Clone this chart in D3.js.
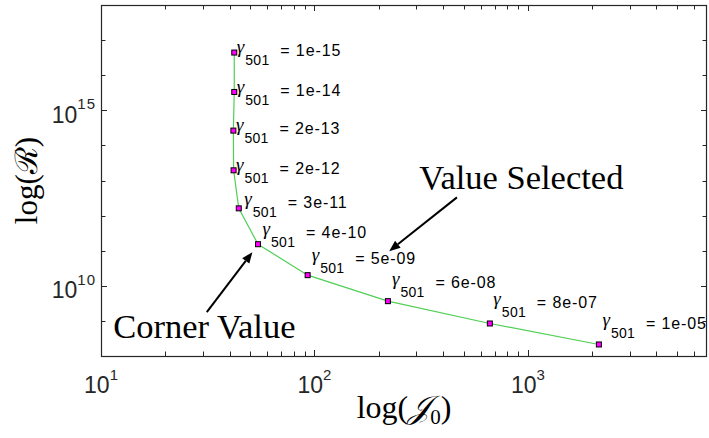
<!DOCTYPE html>
<html>
<head>
<meta charset="utf-8">
<script src="https://cdn.jsdelivr.net/npm/d3@7"></script>
<style>
  body { margin: 0; background: #fff; }
  svg { display: block; }
</style>
</head>
<body>
<svg id="chart" width="709" height="438"></svg>
<script>
// L-curve: misfit J0 against regularisation norm R for a sweep of gamma_501
const gammaLabels = ["1e-15", "1e-14", "2e-13", "2e-12", "3e-11", "4e-10", "5e-09", "6e-08", "8e-07", "1e-05"];
const misfitJ0 = [42.1, 42.1, 41.7, 41.8, 44.2, 54.4, 92.9, 220.8, 663, 2150];
const normR = [4.42e16, 3.33e15, 2.64e14, 1.95e13, 1.61e12, 1.53e11, 2.01e10, 3.65e9, 8.44e8, 2.13e8];

const xTickExponents = [1, 2, 3];
const yTickExponents = [10, 15];
const xDomain = [10, 6900];
const yDomain = [1e8, 1e18];

// annotation arrows and captions, in data units: [x, y]
const cornerArrow = { from: [31.3, 1.77e9], to: [51.2, 9.1e10] };
const selectedArrow = { from: [465, 3.3e12], to: [224, 9.7e10] };
const cornerCaption = { text: "Corner Value", at: [11.4, 3.2e8] };
const selectedCaption = { text: "Value Selected", at: [310, 5.6e12] };

const plot = { left: 101, right: 707, top: 5, bottom: 356 };
const axisColor = "#262626";
const sans = "'Liberation Sans', Arial, Helvetica, sans-serif";
const serif = "'Liberation Serif', 'Times New Roman', serif";

const svg = d3.select("#chart");

const x = d3.scaleLog().domain(xDomain).range([plot.left, plot.right]);
const y = d3.scaleLog().domain(yDomain).range([plot.bottom, plot.top]);

// ---- ticks (inward, on all four sides) ----
const xAll = x.ticks().filter(v => v > xDomain[0] && v < xDomain[1]);
const xMajor = xTickExponents.map(e => 10 ** e);
const yAll = d3.range(9, 18).map(e => 10 ** e);
const yMajor = yTickExponents.map(e => 10 ** e);
const isMajor = (v, list) => list.some(m => Math.abs(v / m - 1) < 1e-9);

const ticks = svg.append("g").attr("stroke", axisColor).attr("stroke-width", 1);
xAll.forEach(v => {
  const len = isMajor(v, xMajor) ? 6 : 4.5;
  const px = Math.round(x(v)) + 0.5;
  ticks.append("line").attr("x1", px).attr("x2", px).attr("y1", plot.bottom).attr("y2", plot.bottom - len);
  ticks.append("line").attr("x1", px).attr("x2", px).attr("y1", plot.top).attr("y2", plot.top + len);
});
yAll.forEach(v => {
  const len = isMajor(v, yMajor) ? 6 : 4.5;
  const py = Math.round(y(v)) + 0.5;
  ticks.append("line").attr("y1", py).attr("y2", py).attr("x1", plot.left).attr("x2", plot.left + len);
  ticks.append("line").attr("y1", py).attr("y2", py).attr("x1", plot.right).attr("x2", plot.right - len);
});

// box
svg.append("rect")
  .attr("x", plot.left + 0.5).attr("y", plot.top + 0.5)
  .attr("width", plot.right - plot.left - 1).attr("height", plot.bottom - plot.top)
  .attr("fill", "none").attr("stroke", axisColor).attr("stroke-width", 1.2);

// ---- tick labels: 10^n ----
const tickLabels = svg.append("g").attr("fill", axisColor).attr("font-family", sans);
xTickExponents.forEach(e => {
  const t = tickLabels.append("text")
    .attr("x", x(10 ** e)).attr("y", plot.bottom + 37)
    .attr("text-anchor", "middle").attr("font-size", 23);
  t.append("tspan").text("10");
  t.append("tspan").attr("dy", -13.5).attr("font-size", 15).text(String(e));
});
yTickExponents.forEach(e => {
  const t = tickLabels.append("text")
    .attr("x", plot.left - 5).attr("y", y(10 ** e) + 12.5)
    .attr("text-anchor", "end").attr("font-size", 23);
  t.append("tspan").text("10");
  t.append("tspan").attr("dy", -13.5).attr("font-size", 15).attr("letter-spacing", 1).text(String(e));
});

// ---- axis titles ----
const xt = svg.append("text")
  .attr("x", (plot.left + plot.right) / 2).attr("y", 418)
  .attr("text-anchor", "middle").attr("font-family", serif).attr("font-size", 32).attr("fill", "#000");
xt.append("tspan").text("log(");
xt.append("tspan").attr("font-style", "italic").text("\u{1D4A5}");
xt.append("tspan").attr("font-size", 21).attr("dy", 6).text("0");
xt.append("tspan").attr("dy", -6).text(")");

const yt = svg.append("text")
  .attr("transform", `translate(37,${(plot.top + plot.bottom) / 2}) rotate(-90)`)
  .attr("text-anchor", "middle").attr("font-family", serif).attr("font-size", 31).attr("fill", "#000");
yt.append("tspan").text("log(");
yt.append("tspan").text("\u211B");
yt.append("tspan").text(")");

// ---- the curve and its markers ----
const idx = d3.range(misfitJ0.length);
svg.append("path")
  .datum(idx)
  .attr("fill", "none").attr("stroke", "#4fcf55").attr("stroke-width", 1.2)
  .attr("d", d3.line().x(i => x(misfitJ0[i])).y(i => y(normR[i])));

svg.append("g").selectAll("rect").data(idx).join("rect")
  .attr("x", i => x(misfitJ0[i]) - 2.5).attr("y", i => y(normR[i]) - 2.5)
  .attr("width", 5).attr("height", 5)
  .attr("fill", "#ff00ff").attr("stroke", "#000").attr("stroke-width", 1);

// ---- gamma labels (nudged in pixels: [dx, baseline dy]) ----
const labelNudge = [[2.5, 3.7], [2.5, 3.7], [2.5, 3.7], [2.5, 3.7], [5.5, -0.7], [4.5, -6.7], [4, -10.7], [4, -13.4], [3.5, -15.7], [3.5, -15]];
const labels = svg.append("g").attr("fill", "#000");
idx.forEach(i => {
  const gx = x(misfitJ0[i]) + labelNudge[i][0];
  const base = y(normR[i]) + labelNudge[i][1];
  labels.append("text")
    .attr("x", gx).attr("y", base - 3)
    .attr("font-family", serif).attr("font-style", "italic").attr("font-size", 19)
    .text("\u03B3");
  labels.append("text")
    .attr("x", gx + 8.5).attr("y", base + 9)
    .attr("font-family", sans).attr("font-size", 14).attr("letter-spacing", 0.3)
    .text("501");
  labels.append("text")
    .attr("x", gx + 43.5).attr("y", base)
    .attr("font-family", sans).attr("font-size", 16).attr("letter-spacing", 0.9)
    .text("= " + gammaLabels[i]);
});

// ---- annotations ----
function arrow(a) {
  const [x0, y0] = [x(a.from[0]), y(a.from[1])];
  const [x1, y1] = [x(a.to[0]), y(a.to[1])];
  const ang = Math.atan2(y1 - y0, x1 - x0);
  const headLen = 11, headHalf = 4.5;
  const bx = x1 - headLen * Math.cos(ang), by = y1 - headLen * Math.sin(ang);
  const g = svg.append("g");
  g.append("line")
    .attr("x1", x0).attr("y1", y0).attr("x2", bx).attr("y2", by)
    .attr("stroke", "#000").attr("stroke-width", 2);
  g.append("polygon")
    .attr("points", [
      [x1, y1],
      [bx + headHalf * Math.sin(ang), by - headHalf * Math.cos(ang)],
      [bx - headHalf * Math.sin(ang), by + headHalf * Math.cos(ang)]
    ].map(p => p.join(",")).join(" "))
    .attr("fill", "#000");
}
arrow(cornerArrow);
arrow(selectedArrow);

[cornerCaption, selectedCaption].forEach(c => {
  svg.append("text")
    .attr("x", x(c.at[0])).attr("y", y(c.at[1]))
    .attr("font-family", serif).attr("font-size", 34.5).attr("fill", "#000")
    .text(c.text);
});
</script>
</body>
</html>
